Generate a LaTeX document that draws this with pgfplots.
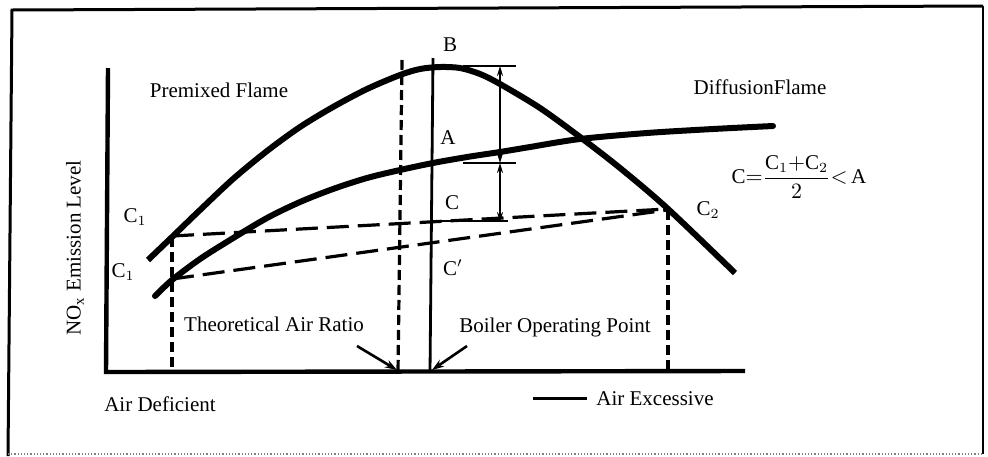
\documentclass[border=0pt]{standalone}
\usepackage{pgfplots}
\pgfplotsset{compat=1.18}
\usetikzlibrary{arrows.meta}
\usepackage{fontspec}
\setmainfont{Liberation Serif}

\begin{document}
\begin{tikzpicture}
\fontsize{10.5}{12}\selectfont
% coordinates are the pixels of the scanned figure (y grows downward)
\begin{axis}[
  width=494pt, height=228pt, scale only axis,
  xmin=0, xmax=988, ymin=0, ymax=456,
  y dir=reverse,
  hide axis, clip=false,
  every axis plot/.append style={black},
]
% frame
\addplot [line width=1.5pt] coordinates {(8,456) (12,10) (983,6)};
\addplot [line width=1pt] coordinates {(983,6) (983,454)};
\addplot [line width=0.6pt, gray, densely dotted] coordinates {(8,454) (983,454)};

% axes of the sketch
\addplot [line width=2.2pt] coordinates {(108,68) (106,372) (745,371)};

% premixed flame (steep curve, peak B)
\addplot [line width=3pt, smooth, tension=0.5] coordinates {
  (148,260) (172,237) (200,210) (233,179) (267,151) (300,127) (333,107)
  (367,89) (400,75) (420,69) (440,67) (460,68) (480,74) (500,84)
  (540,108) (580,137) (620,168) (667,208) (735,273)};

% diffusion flame (flat curve)
\addplot [line width=3pt, smooth, tension=0.5, line cap=round] coordinates {
  (155,296) (172,280) (200,259) (230,240) (267,218) (300,202) (333,189)
  (367,178) (400,170) (433,163) (467,157) (500,152) (530,147) (580,139)
  (647,133) (713,129) (773,126)};

% dashed construction lines
\addplot [line width=1.6pt, dash pattern=on 11pt off 4.5pt] coordinates {(172,236) (667,209)};
\addplot [line width=1.6pt, dash pattern=on 11pt off 4.5pt] coordinates {(172,279) (667,210)};
\addplot [line width=1.6pt, dash pattern=on 5pt off 2.5pt] coordinates {(172,237) (172,372)};
\addplot [line width=1.6pt, dash pattern=on 5pt off 2.5pt] coordinates {(402,60) (398,372)};
\addplot [line width=1.6pt, dash pattern=on 5pt off 2.5pt] coordinates {(668,210) (668,372)};

% boiler operating point
\addplot [line width=1.4pt] coordinates {(433,58) (430,372)};

% level marks and arrows
\addplot [line width=1pt] coordinates {(463,66) (516,66)};
\addplot [line width=1pt] coordinates {(463,163) (516,163)};
\addplot [line width=1pt] coordinates {(433,221) (508,221)};
\addplot [line width=1pt, {Stealth[length=5pt,width=3pt]}-{Stealth[length=5pt,width=3pt]}] coordinates {(500,66) (500,163)};
\addplot [line width=1pt, {Stealth[length=5pt,width=3pt]}-{Stealth[length=5pt,width=3pt]}] coordinates {(500,163) (500,222)};

% pointers to the axis
\addplot [line width=1.3pt, -{Stealth[length=6pt,width=4pt]}] coordinates {(357,346) (397,370)};
\addplot [line width=1.3pt, -{Stealth[length=6pt,width=4pt]}] coordinates {(467,346) (432,370)};
\addplot [line width=1.5pt] coordinates {(533,398) (587,398)};

% labels
\node at (axis cs:450,45) {B};
\node at (axis cs:448,138) {A};
\node at (axis cs:452,203) {C};
\node at (axis cs:453,268) {C$'$};
\node at (axis cs:135,217) {C$_1$};
\node at (axis cs:123,272) {C$_1$};
\node at (axis cs:708,210) {C$_2$};
\node at (axis cs:219,90) {Premixed Flame};
\node at (axis cs:760,87) {DiffusionFlame};
\node at (axis cs:799,177) {$\mathrm{C}{=}\displaystyle\frac{\mathrm{C}_1{+}\mathrm{C}_2}{2}{<}\,\mathrm{A}$};
\node[rotate=90] at (axis cs:75,248) {NO$_\mathrm{x}$ Emission Level};
\node at (axis cs:274,324) {Theoretical Air Ratio};
\node at (axis cs:555,327) {Boiler Operating Point};
\node at (axis cs:160,404) {Air Deficient};
\node at (axis cs:655,399) {Air Excessive};
\end{axis}
\pgfresetboundingbox
\path (current axis.south west) rectangle (current axis.north east);
\end{tikzpicture}
\end{document}
